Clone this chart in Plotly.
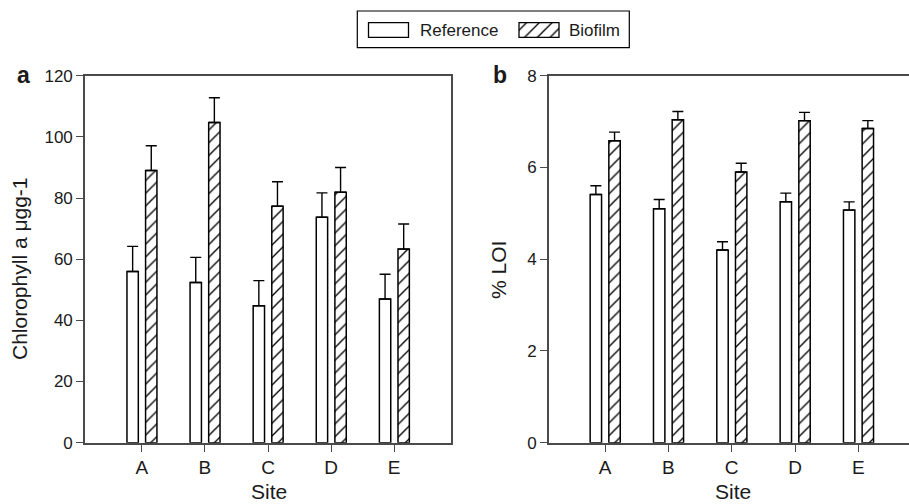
import plotly.graph_objects as go

W, H = 909, 504

sites = ["A", "B", "C", "D", "E"]
series_names = ["Reference", "Biofilm"]

chl_ref = [56.0, 52.4, 44.8, 73.7, 47.0]
chl_ref_err = [8.2, 8.2, 8.2, 8.0, 8.1]
chl_bio = [89.0, 104.7, 77.3, 81.9, 63.3]
chl_bio_err = [8.1, 8.1, 8.0, 8.1, 8.2]

loi_ref = [5.41, 5.10, 4.20, 5.25, 5.07]
loi_ref_err = [0.19, 0.20, 0.18, 0.19, 0.18]
loi_bio = [6.58, 7.04, 5.90, 7.02, 6.85]
loi_bio_err = [0.19, 0.18, 0.19, 0.18, 0.17]

chl_ticks = [0, 20, 40, 60, 80, 100, 120]
loi_ticks = [0, 2, 4, 6, 8]

FONT = "Arial, 'Liberation Sans', Helvetica, sans-serif"
AX = "#4a4a4a"
TXT = "#1a1a1a"

def px_x(p):
    return p / W

def px_y(p):
    return (H - p) / H

hatch = dict(shape="/", size=9, solidity=0.15, fgcolor="black", bgcolor="white", fillmode="replace")
plain = dict(shape="", bgcolor="white")

def bar(x, y, err, name, pattern, offset, xa, ya):
    return go.Bar(
        x=x, y=y, name=name, width=0.18, offset=offset,
        marker=dict(color="white", line=dict(color="black", width=1.5), pattern=pattern),
        error_y=dict(type="data", array=err, symmetric=False, arrayminus=[0] * len(err),
                     color="black", thickness=1.4, width=5.5),
        xaxis=xa, yaxis=ya, showlegend=False,
    )

fig = go.Figure()
fig.add_trace(bar(sites, chl_ref, chl_ref_err, series_names[0], plain, -0.235, "x", "y"))
fig.add_trace(bar(sites, chl_bio, chl_bio_err, series_names[1], hatch, 0.06, "x", "y"))
fig.add_trace(bar(sites, loi_ref, loi_ref_err, series_names[0], plain, -0.235, "x2", "y2"))
fig.add_trace(bar(sites, loi_bio, loi_bio_err, series_names[1], hatch, 0.06, "x2", "y2"))

# legend icons drawn as bars on tiny hidden axes
for i, (nm, pat, x0) in enumerate([(series_names[0], plain, 366), (series_names[1], hatch, 516.5)]):
    xa = "x%d" % (i + 3)
    ya = "y%d" % (i + 3)
    fig.add_trace(go.Bar(x=[0], y=[1], width=1, name=nm, showlegend=False,
                         marker=dict(color="white", line=dict(color="black", width=1.3), pattern=pat),
                         xaxis=xa, yaxis=ya, hoverinfo="skip"))
    fig.layout["xaxis%d" % (i + 3)] = dict(domain=[px_x(x0), px_x(x0 + 45)], range=[-0.5625, 0.5625],
                                            visible=False, anchor=ya, fixedrange=True)
    fig.layout["yaxis%d" % (i + 3)] = dict(domain=[px_y(40), px_y(20)], range=[-0.18, 1.18],
                                            visible=False, anchor=xa, fixedrange=True)

common_x = dict(type="category", showline=True, linecolor=AX, linewidth=1.6, mirror=True,
                ticks="outside", ticklen=7, tickwidth=1.4, tickcolor=AX,
                tickfont=dict(family=FONT, size=19, color=TXT), showgrid=False, zeroline=False,
                automargin=False)
common_y = dict(showline=True, linecolor=AX, linewidth=1.6,
                ticks="outside", ticklen=7, tickwidth=1.4, tickcolor=AX,
                tickfont=dict(family=FONT, size=17, color=TXT), showgrid=False, zeroline=False,
                automargin=False)

fig.update_layout(
    width=W, height=H, margin=dict(l=0, r=0, t=0, b=0, autoexpand=False),
    paper_bgcolor="white", plot_bgcolor="white",
    barmode="overlay", showlegend=False,
    xaxis=dict(common_x, domain=[px_x(85), px_x(451)], range=[-0.9, 4.9], anchor="y"),
    yaxis=dict(common_y, domain=[px_y(442.7), px_y(75.7)], range=[0, 120], tickvals=chl_ticks,
               mirror=True, anchor="x"),
    xaxis2=dict(common_x, domain=[px_x(549), 1.0], range=[-0.885, 4.80], anchor="y2"),
    yaxis2=dict(common_y, domain=[px_y(442.7), px_y(75.7)], range=[0, 8], tickvals=loi_ticks,
                mirror=False, anchor="x2"),
)

# legend frame
fig.add_shape(type="rect", xref="paper", yref="paper",
              x0=px_x(357.3), x1=px_x(629.3), y0=px_y(47.7), y1=px_y(11),
              line=dict(color="black", width=1.2), fillcolor="rgba(0,0,0,0)")

ann = []
ann.append(dict(text=series_names[0], x=px_x(418), y=px_y(30.5), xanchor="left", yanchor="middle"))
ann.append(dict(text=series_names[1], x=px_x(567), y=px_y(30.5), xanchor="left", yanchor="middle"))
for a in ann:
    a.update(xref="paper", yref="paper", showarrow=False, font=dict(family=FONT, size=17, color=TXT))
    fig.add_annotation(**a)

titles = [
    dict(text="Site", x=px_x(269), y=px_y(491.5), size=21),
    dict(text="Site", x=px_x(733), y=px_y(491.5), size=21),
    dict(text="Chlorophyll a μgg-1", x=px_x(19), y=px_y(269), size=21, textangle=-90),
    dict(text="% LOI", x=px_x(498), y=px_y(270), size=21, textangle=-90),
    dict(text="<b>a</b>", x=px_x(23.5), y=px_y(75), size=23),
    dict(text="<b>b</b>", x=px_x(499.5), y=px_y(75), size=23),
]
for t in titles:
    fig.add_annotation(text=t["text"], x=t["x"], y=t["y"], xref="paper", yref="paper",
                       showarrow=False, xanchor="center", yanchor="middle",
                       textangle=t.get("textangle", 0),
                       font=dict(family=FONT, size=t["size"], color=TXT))

fig.write_html("out.html")
